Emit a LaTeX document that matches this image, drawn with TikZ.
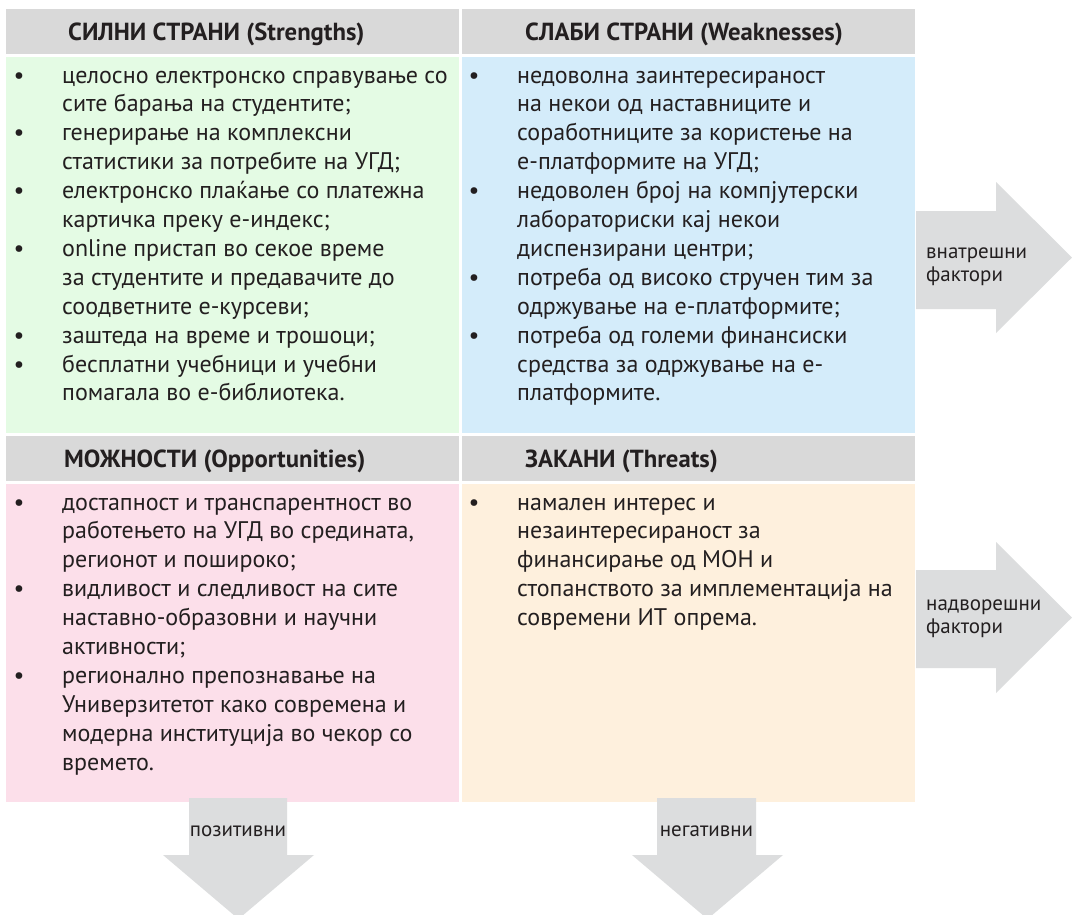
\documentclass[tikz,border=0pt]{standalone}
\usepackage{fontspec}
\setmainfont{PT Sans}
\definecolor{hdrgray}{HTML}{D9D9D9}
\definecolor{sgreen}{HTML}{E4FBE4}
\definecolor{wblue}{HTML}{D4ECFA}
\definecolor{opink}{HTML}{FCDFEA}
\definecolor{torange}{HTML}{FEF0DD}
\definecolor{arrgray}{HTML}{DCDDDE}
\definecolor{ink}{HTML}{231F20}
\begin{document}
\begin{tikzpicture}[x=1pt,y=-1pt,
  cell/.style={inner sep=0pt, outer sep=0pt, anchor=north west, draw=none},
  hdr/.style={cell, fill=hdrgray, minimum width=453pt, minimum height=45pt},
  body/.style={cell, minimum width=453pt},
  hdrtxt/.style={anchor=base west, inner sep=0pt, font=\fontsize{24.7}{28}\selectfont\bfseries, text=ink},
  txt/.style={anchor=base west, inner sep=0pt, font=\fontsize{24}{28}\selectfont, text=ink},
  bul/.style={anchor=base, inner sep=0pt, font=\fontsize{24}{28}\selectfont, text=ink},
  lbl/.style={anchor=base west, inner sep=0pt, font=\fontsize{21}{24}\selectfont, text=ink},
  dlbl/.style={anchor=base, inner sep=0pt, font=\fontsize{21}{24}\selectfont, text=ink},
  arr/.style={fill=arrgray, draw=none}]
\useasboundingbox (0,0) rectangle (1072,914);
\clip (0,0) rectangle (1072,914);
\fill[white] (0,0) rectangle (1072,914);

% headers
\node[hdr] (hS) at (6,9) {};
\node[hdr] (hW) at (462,9) {};
\node[hdr] (hO) at (6,436) {};
\node[hdr] (hT) at (462,436) {};
% bodies
\node[body, fill=sgreen, minimum height=376pt] (bS) at (6,57) {};
\node[body, fill=wblue, minimum height=376pt] (bW) at (462,57) {};
\node[body, fill=opink, minimum height=318pt] (bO) at (6,484) {};
\node[body, fill=torange, minimum height=318pt] (bT) at (462,484) {};

% header texts
\node[hdrtxt] (tS) at (68,40) {СИЛНИ СТРАНИ (Strengths)};
\node[hdrtxt] (tW) at (525,40) {СЛАБИ СТРАНИ (Weaknesses)};
\node[hdrtxt] (tO) at (64,467) {МОЖНОСТИ (Opportunities)};
\node[hdrtxt] (tT) at (525,467) {ЗАКАНИ (Threats)};

% Strengths
\foreach \t [count=\i] in {
  {целосно електронско справување со},
  {сите барања на студентите;},
  {генерирање на комплексни},
  {статистики за потребите на УГД;},
  {електронско плаќање со платежна},
  {картичка преку е-индекс;},
  {online пристап во секое време},
  {за студентите и предавачите до},
  {соодветните е-курсеви;},
  {заштеда на време и трошоци;},
  {бесплатни учебници и учебни},
  {помагала во е-библиотека.}}
  \node[txt] (s\i) at (62,{83+(\i-1)*28.9}) {\t};
\foreach \i in {1,3,5,7,10,11}
  \node[bul] (sb\i) at (19,{83+(\i-1)*28.9}) {•};

% Weaknesses
\foreach \t [count=\i] in {
  {недоволна заинтересираност},
  {на некои од наставниците и},
  {соработниците за користење на},
  {е-платформите на УГД;},
  {недоволен број на компјутерски},
  {лабораториски кај некои},
  {диспензирани центри;},
  {потреба од високо стручен тим за},
  {одржување на е-платформите;},
  {потреба од големи финансиски},
  {средства за одржување на е-},
  {платформите.}}
  \node[txt] (w\i) at (517,{83+(\i-1)*28.9}) {\t};
\foreach \i in {1,5,8,10}
  \node[bul] (wb\i) at (474,{83+(\i-1)*28.9}) {•};

% Opportunities
\foreach \t [count=\i] in {
  {достапност и транспарентност во},
  {работењето на УГД во средината,},
  {регионот и пошироко;},
  {видливост и следливост на сите},
  {наставно-образовни и научни},
  {активности;},
  {регионално препознавање на},
  {Универзитетот како современа и},
  {модерна институција во чекор со},
  {времето.}}
  \node[txt] (o\i) at (62,{510+(\i-1)*28.9}) {\t};
\foreach \i in {1,4,7}
  \node[bul] (ob\i) at (19,{510+(\i-1)*28.9}) {•};

% Threats
\foreach \t [count=\i] in {
  {намален интерес и},
  {незаинтересираност за},
  {финансирање од МОН и},
  {стопанството за имплементација на},
  {современи ИТ опрема.}}
  \node[txt] (t\i) at (517,{510+(\i-1)*28.9}) {\t};
\node[bul] (tb1) at (474,510) {•};

% right arrows
\fill[arr] (916,211) -- (996,211) -- (996,182) -- (1072,257.5) -- (996,333) -- (996,309) -- (916,309) -- cycle;
\fill[arr] (916,570) -- (996,570) -- (996,542) -- (1072,617.5) -- (996,693) -- (996,668) -- (916,668) -- cycle;
\node[lbl] (in1) at (926,258) {внатрешни};
\node[lbl] (in2) at (926,281) {фактори};
\node[lbl] (ex1) at (926,610) {надворешни};
\node[lbl] (ex2) at (926,633) {фактори};

% down arrows
\fill[arr] (189,798) -- (287,798) -- (287,855) -- (314,855) -- (238.5,919) -- (163,855) -- (189,855) -- cycle;
\fill[arr] (657,798) -- (756,798) -- (756,855) -- (783,855) -- (707.5,919) -- (632,855) -- (657,855) -- cycle;
\node[dlbl] (pos) at (238,836) {позитивни};
\node[dlbl] (neg) at (706.5,836) {негативни};
\end{tikzpicture}
\end{document}
